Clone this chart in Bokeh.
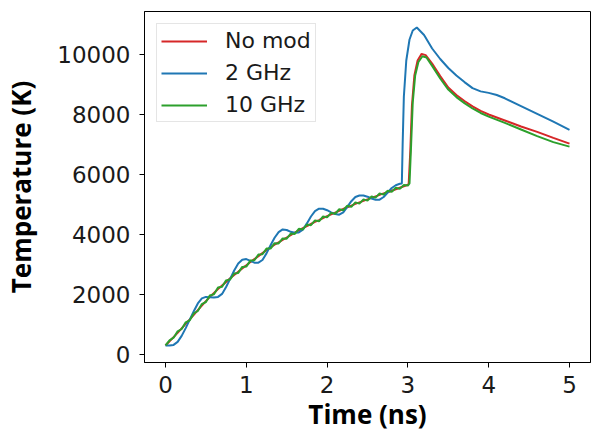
from bokeh.plotting import figure
from bokeh.models import Range1d, FixedTicker, Legend, LegendItem
from bokeh.embed import file_html
from bokeh.resources import INLINE

# ---- data ----
t_nomod = [0.0, 0.05, 0.1, 0.15, 0.2, 0.25, 0.3, 0.35, 0.4, 0.45, 0.5, 0.55, 0.6, 0.65, 0.7,
           0.75, 0.8, 0.85, 0.9, 0.95, 1.0, 1.05, 1.1, 1.15, 1.2, 1.25, 1.3, 1.35, 1.4, 1.45,
           1.5, 1.55, 1.6, 1.65, 1.7, 1.75, 1.8, 1.85, 1.9, 1.95, 2.0, 2.05, 2.1, 2.15, 2.2,
           2.25, 2.3, 2.35, 2.4, 2.45, 2.5, 2.55, 2.6, 2.65, 2.7, 2.75, 2.8, 2.85, 2.9, 2.95,
           3.0, 3.01, 3.03, 3.05, 3.08, 3.12, 3.17, 3.22, 3.3, 3.4, 3.5, 3.6, 3.7, 3.8, 3.9,
           4.0, 4.2, 4.4, 4.6, 4.8, 5.0]
T_nomod = [300, 440, 580, 720, 870, 1020, 1170, 1320, 1480, 1630, 1780, 1920, 2050, 2180, 2300,
           2420, 2540, 2650, 2760, 2870, 2970, 3080, 3180, 3280, 3380, 3480, 3570, 3660, 3740, 3820,
           3900, 3980, 4060, 4140, 4210, 4280, 4350, 4420, 4480, 4550, 4610, 4670, 4730, 4790, 4850,
           4910, 4960, 5020, 5070, 5120, 5170, 5220, 5270, 5320, 5370, 5410, 5460, 5510, 5560, 5610,
           5660, 5700, 6800, 8300, 9300, 9800, 10020, 9980, 9700, 9280, 8900, 8650, 8450, 8270, 8120,
           8000, 7800, 7600, 7420, 7220, 7030]

t_2ghz = [0.0, 0.05, 0.1, 0.15, 0.2, 0.25, 0.3, 0.35, 0.4, 0.45, 0.5, 0.55, 0.6, 0.65, 0.7,
          0.75, 0.8, 0.85, 0.9, 0.95, 1.0, 1.05, 1.1, 1.15, 1.2, 1.25, 1.3, 1.35, 1.4, 1.45,
          1.5, 1.55, 1.6, 1.65, 1.7, 1.75, 1.8, 1.85, 1.9, 1.95, 2.0, 2.05, 2.1, 2.15, 2.2,
          2.25, 2.3, 2.35, 2.4, 2.45, 2.5, 2.55, 2.6, 2.65, 2.7, 2.75, 2.8, 2.85, 2.9, 2.925,
          2.935, 2.95, 2.98, 3.02, 3.06, 3.11, 3.2, 3.3, 3.4, 3.5, 3.6, 3.7, 3.8, 3.9, 4.0,
          4.1, 4.2, 4.4, 4.6, 4.8, 5.0]
T_2ghz = [300, 300, 320, 420, 620, 880, 1160, 1440, 1700, 1870, 1920, 1910, 1900, 1920, 2020,
          2250, 2520, 2800, 3030, 3160, 3180, 3120, 3060, 3060, 3150, 3370, 3640, 3890, 4080, 4170,
          4150, 4090, 4060, 4070, 4160, 4370, 4600, 4780, 4860, 4860, 4810, 4740, 4680, 4660, 4740,
          4920, 5110, 5250, 5300, 5300, 5260, 5200, 5160, 5160, 5250, 5400, 5550, 5640, 5690, 5700,
          7000, 8600, 9800, 10500, 10800, 10900, 10650, 10200, 9850, 9550, 9300, 9080, 8880, 8770, 8720,
          8650, 8540, 8280, 8020, 7760, 7490]

t_10ghz = [0.0, 0.05, 0.1, 0.15, 0.2, 0.25, 0.3, 0.35, 0.4, 0.45, 0.5, 0.55, 0.6, 0.65, 0.7,
           0.75, 0.8, 0.85, 0.9, 0.95, 1.0, 1.05, 1.1, 1.15, 1.2, 1.25, 1.3, 1.35, 1.4, 1.45,
           1.5, 1.55, 1.6, 1.65, 1.7, 1.75, 1.8, 1.85, 1.9, 1.95, 2.0, 2.05, 2.1, 2.15, 2.2,
           2.25, 2.3, 2.35, 2.4, 2.45, 2.5, 2.55, 2.6, 2.65, 2.7, 2.75, 2.8, 2.85, 2.9, 2.95,
           3.0, 3.02, 3.04, 3.06, 3.09, 3.13, 3.18, 3.23, 3.3, 3.4, 3.5, 3.6, 3.7, 3.8, 3.9,
           4.0, 4.2, 4.4, 4.6, 4.8, 5.0]
T_10ghz = [300, 470, 560, 770, 850, 1070, 1140, 1370, 1450, 1680, 1750, 1970, 2010, 2230, 2260,
           2470, 2500, 2700, 2720, 2920, 2930, 3130, 3140, 3330, 3340, 3530, 3530, 3710, 3700, 3870,
           3860, 4030, 4020, 4190, 4170, 4330, 4310, 4470, 4440, 4600, 4570, 4720, 4690, 4840, 4810,
           4960, 4920, 5070, 5030, 5170, 5130, 5270, 5230, 5370, 5330, 5460, 5420, 5560, 5520, 5650,
           5630, 5700, 7000, 8400, 9300, 9750, 9940, 9900, 9620, 9200, 8830, 8580, 8380, 8200, 8050,
           7930, 7720, 7500, 7280, 7080, 6930]

labels = ["No mod", "2 GHz", "10 GHz"]
colors = ["#d62728", "#1f77b4", "#2ca02c"]
x_ticks = [0, 1, 2, 3, 4, 5]
y_ticks = [0, 2000, 4000, 6000, 8000, 10000]

p = figure(width=591, height=434, output_backend="svg", toolbar_location=None,
           x_range=Range1d(-0.26, 5.26), y_range=Range1d(-267, 11433),
           min_border_left=144, min_border_right=1, min_border_top=11, min_border_bottom=72)
p.grid.visible = False
p.outline_line_color = "black"
p.outline_line_width = 1

r1 = p.line(t_nomod, T_nomod, line_color=colors[0], line_width=2)
r2 = p.line(t_2ghz, T_2ghz, line_color=colors[1], line_width=2)
r3 = p.line(t_10ghz, T_10ghz, line_color=colors[2], line_width=2)

for ax in (p.xaxis[0], p.yaxis[0]):
    ax.major_tick_in = 0
    ax.major_tick_out = 5
    ax.minor_tick_in = 0
    ax.minor_tick_out = 0
    ax.axis_line_color = "black"
    ax.major_tick_line_color = "black"
    ax.major_label_text_font = "DejaVu Sans"
    ax.major_label_text_font_size = "23px"
    ax.major_label_text_color = "#1a1a1a"
    ax.axis_label_text_font = "Open Sans"
    ax.axis_label_text_font_style = "bold"
    ax.axis_label_text_font_size = "26px"
    ax.axis_label_text_color = "black"

p.xaxis[0].ticker = FixedTicker(ticks=x_ticks)
p.yaxis[0].ticker = FixedTicker(ticks=y_ticks)
p.xaxis[0].axis_label = "Time (ns)"
p.yaxis[0].axis_label = "Temperature (K)"
p.xaxis[0].major_label_standoff = 8
p.yaxis[0].major_label_standoff = 9
p.xaxis[0].axis_label_standoff = 0
p.yaxis[0].axis_label_standoff = 15

legend = Legend(items=[LegendItem(label=labels[0], renderers=[r1]),
                       LegendItem(label=labels[1], renderers=[r2]),
                       LegendItem(label=labels[2], renderers=[r3])],
                location="top_left")
legend.margin = 12
legend.padding = 4
legend.spacing = 7
legend.label_height = 24
legend.glyph_height = 24
legend.glyph_width = 46
legend.label_standoff = 18
legend.label_text_font = "DejaVu Sans"
legend.label_text_font_size = "22px"
legend.label_text_color = "#1a1a1a"
legend.border_line_color = "#cccccc"
legend.border_line_width = 1
legend.background_fill_alpha = 0.8
p.add_layout(legend)

open("out.html", "w").write(file_html(p, INLINE))
